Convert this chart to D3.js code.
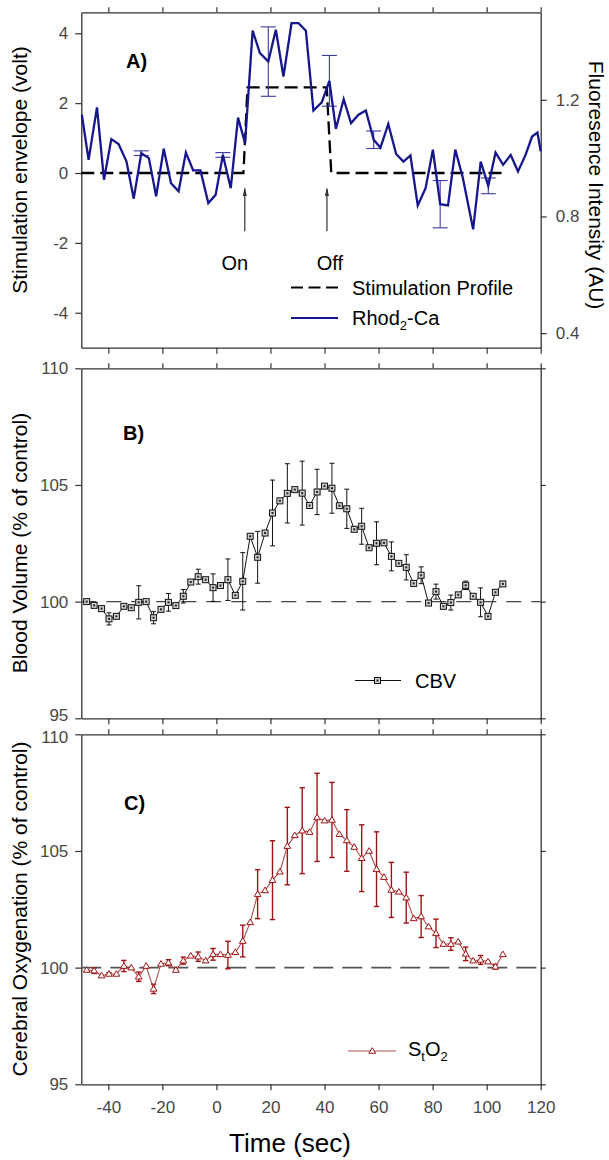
<!DOCTYPE html>
<html><head><meta charset="utf-8">
<script src="https://cdn.jsdelivr.net/npm/d3@7"></script>
<style>
body{margin:0;background:#fff}
svg{display:block}
text{font-family:"Liberation Sans",Arial,sans-serif}
</style>
</head><body>
<svg id="c" width="609" height="1160"></svg>
<script>
// ---------------- DATA ----------------
const xTicks = [-40, -20, 0, 20, 40, 60, 80, 100, 120];
const voltTicks = [-4, -2, 0, 2, 4];
const fluorTicks = [0.4, 0.8, 1.2];
const pctTicks = [95, 100, 105, 110];

// Panel A: stimulation profile (volt)
const stimTime = [-50, 10, 11.5, 40.8, 42.5, 106];
const stimVolt = [0, 0, 2.45, 2.45, 0, 0];
const stimEventTime = [10.5, 40.9];
const stimEventLabel = ["On", "Off"];

// Panel A: Rhod2-Ca fluorescence (AU)
const rhodTime = [-49.8, -47.3, -44.2, -41.6, -38.9, -36.2, -33.3, -30.6, -27.8, -25.0,
  -22.3, -19.5, -16.8, -14.0, -11.3, -8.6, -5.9, -3.0, -0.3, 2.4,
  5.3, 8.0, 10.6, 13.4, 16.1, 19.2, 22.0, 24.8, 27.8, 30.4,
  33.1, 35.9, 39.0, 41.8, 44.2, 47.1, 49.8, 52.6, 55.3, 58.2,
  60.7, 63.6, 66.5, 69.2, 71.8, 74.5, 77.4, 80.1, 82.8, 85.7,
  88.4, 91.2, 95.0, 97.8, 100.6, 103.3, 106.1, 108.9, 111.6, 114.4,
  116.8, 118.8, 120.0];
const rhodValue = [1.149, 0.994, 1.174, 0.926, 1.065, 1.048, 0.989, 0.861, 1.017, 1.000,
  0.869, 1.032, 0.914, 0.886, 1.019, 0.958, 0.958, 0.846, 0.874, 1.011,
  0.897, 1.139, 1.051, 1.437, 1.360, 1.331, 1.440, 1.280, 1.463, 1.463,
  1.437, 1.163, 1.191, 1.265, 1.100, 1.202, 1.120, 1.149, 1.163, 1.063,
  1.036, 1.117, 1.014, 0.988, 1.009, 0.838, 0.897, 1.029, 0.842, 0.838,
  1.029, 0.932, 0.756, 0.988, 0.905, 1.019, 0.977, 1.011, 0.954, 1.011,
  1.074, 1.088, 1.023];
const rhodErr = [0, 0, 0, 0, 0, 0, 0, 0, 0.008, 0,
  0, 0, 0, 0, 0, 0, 0, 0, 0, 0.008,
  0, 0, 0, 0, 0, 0.119, 0, 0, 0, 0,
  0, 0, 0, 0.087, 0, 0, 0, 0, 0, 0.03,
  0, 0, 0, 0, 0, 0, 0, 0, 0.081, 0,
  0, 0, 0, 0, 0.027, 0, 0, 0, 0, 0,
  0, 0, 0];

// Panels B and C: common sample times (sec)
const sampleTime = [-48, -45.25, -42.5, -39.75, -37, -34.25, -31.5, -28.75, -26, -23.25,
  -20.5, -17.75, -15, -12.25, -9.5, -6.75, -4, -1.25, 1.5, 4.25,
  7, 9.75, 12.5, 15.25, 18, 20.75, 23.5, 26.25, 29, 31.75,
  34.5, 37.25, 40, 42.75, 45.5, 48.25, 51, 53.75, 56.5, 59.25,
  62, 64.75, 67.5, 70.25, 73, 75.75, 78.5, 81.25, 84, 86.75,
  89.5, 92.25, 95, 97.75, 100.5, 103.25, 106];

// Panel B: CBV (% of control)
const cbvValue = [100.0, 99.84, 99.70, 99.26, 99.37, 99.80, 99.74, 99.97, 100.0, 99.31,
  99.67, 99.97, 99.83, 100.23, 100.84, 101.07, 100.94, 100.60, 100.69, 100.94,
  100.27, 100.87, 102.80, 101.90, 102.94, 103.80, 104.32, 104.64, 104.80, 104.65,
  104.12, 104.70, 104.95, 104.86, 104.11, 103.98, 103.10, 103.23, 102.31, 102.50,
  102.52, 101.94, 101.64, 101.47, 100.78, 101.13, 99.94, 100.43, 99.80, 99.96,
  100.29, 100.70, 100.23, 99.97, 99.37, 100.40, 100.76];
const cbvErr = [0, 0, 0, 0.26, 0, 0.08, 0, 0.71, 0, 0.26,
  0, 0.38, 0, 0.29, 0, 0.32, 0, 0.59, 0, 0.89,
  0, 1.23, 0, 1.11, 0, 1.41, 0, 1.27, 0, 1.37,
  0, 0.97, 0, 1.07, 0, 0.84, 0, 0.77, 0, 0.92,
  0, 0.62, 0, 0.54, 0, 0.36, 0, 0.32, 0, 0.32,
  0, 0.18, 0, 0.62, 0, 0, 0];

// Panel C: StO2 (% of control)
const sto2Value = [99.90, 99.87, 99.66, 99.73, 99.73, 100.07, 100.0, 99.61, 100.07, 99.09,
  100.16, 100.21, 99.90, 100.30, 100.51, 100.47, 100.30, 100.57, 100.57, 100.54,
  100.66, 101.14, 101.94, 103.15, 103.31, 103.75, 104.11, 105.21, 105.67, 105.87,
  105.81, 106.44, 106.30, 106.33, 105.72, 105.45, 105.17, 104.69, 105.00, 104.22,
  103.88, 103.33, 103.25, 103.00, 102.11, 102.19, 101.76, 101.47, 101.01, 101.01,
  101.11, 100.59, 100.30, 100.33, 100.26, 100.04, 100.57];
const sto2Err = [0, 0.12, 0, 0.05, 0, 0.24, 0, 0.20, 0, 0.20,
  0, 0.13, 0, 0.15, 0, 0.20, 0, 0.25, 0, 0.59,
  0, 0.68, 0, 1.05, 0, 1.69, 0, 1.66, 0, 1.84,
  0, 1.89, 0, 1.61, 0, 1.32, 0, 1.43, 0, 1.60,
  0, 1.18, 0, 1.09, 0, 0.90, 0, 0.61, 0, 0.27,
  0, 0.29, 0, 0.19, 0, 0.10, 0];

const controlLevel = [100];

// ---------------- DRAW ----------------
const svg = d3.select("#c");
const X0 = 81.3, X1 = 540.7;
const x = d3.scaleLinear().domain([-50, 120]).range([X0, X1]);

const A = {top: 12.3, bottom: 347.7};
const B = {top: 368.3, bottom: 718.3};
const C = {top: 734.3, bottom: 1084.3};

const yV = d3.scaleLinear().domain([-5, 4.6]).range([A.bottom, A.top]);
const yF = d3.scaleLinear().domain([0.35, 1.5]).range([A.bottom, A.top]);
const yB = d3.scaleLinear().domain([95, 110]).range([B.bottom, B.top]);
const yC = d3.scaleLinear().domain([95, 110]).range([C.bottom, C.top]);

const AX = "#333", LBL = "#474747";

function styleAxis(g) {
  g.select(".domain").attr("stroke", AX).attr("stroke-width", 1.3);
  g.selectAll(".tick line").attr("stroke", AX).attr("stroke-width", 1.2);
  g.selectAll(".tick text").attr("fill", LBL).attr("font-size", 17)
    .attr("font-family", "Liberation Sans, Arial, sans-serif");
}

function frame(p, yScale, yTickVals, opts) {
  // left
  const l = svg.append("g").attr("transform", `translate(${X0},0)`)
    .call(d3.axisLeft(yScale).tickValues(yTickVals).tickSize(6).tickPadding(7)
      .tickSizeOuter(0).tickFormat(d => String(d)))
    .call(styleAxis);
  if (opts.nudge) {
    l.selectAll(".tick text").attr("transform", d => opts.nudge(d));
  }
  // right
  const r = svg.append("g").attr("transform", `translate(${X1},0)`);
  if (opts.rightScale) {
    r.call(d3.axisRight(opts.rightScale).tickValues(opts.rightTicks).tickSize(6).tickPadding(9)
      .tickSizeOuter(0).tickFormat(d3.format(".1f")));
  } else {
    r.call(d3.axisRight(yScale).tickValues(yTickVals).tickSize(5).tickSizeOuter(0).tickFormat(""));
  }
  r.call(styleAxis);
  // top
  svg.append("g").attr("transform", `translate(0,${p.top})`)
    .call(d3.axisTop(x).tickValues(xTicks).tickSize(5).tickSizeOuter(0).tickFormat(""))
    .call(styleAxis);
  // bottom
  const b = svg.append("g").attr("transform", `translate(0,${p.bottom})`);
  if (opts.bottomLabels) {
    b.call(d3.axisBottom(x).tickValues(xTicks).tickSize(6).tickPadding(11)
      .tickSizeOuter(0).tickFormat(d => String(d)));
  } else {
    b.call(d3.axisBottom(x).tickValues(xTicks).tickSize(6).tickSizeOuter(0).tickFormat(""));
  }
  b.call(styleAxis);
}

frame(A, yV, voltTicks, {rightScale: yF, rightTicks: fluorTicks});
frame(B, yB, pctTicks, {nudge: d => d === 95 ? "translate(0,-3)" : null});
frame(C, yC, pctTicks, {bottomLabels: true, nudge: d => d === 110 ? "translate(0,3)" : null});

// ---- Panel A ----
const gA = svg.append("g");
// stimulation profile
const stimPts = stimTime.map((t, i) => [t, stimVolt[i]]);
gA.append("path").datum(stimPts)
  .attr("d", d3.line().x(d => x(d[0])).y(d => yV(d[1])))
  .attr("fill", "none").attr("stroke", "#000").attr("stroke-width", 2.3)
  .attr("stroke-dasharray", "13,6");

// On/Off arrows
const arrowTop = yV(-0.4), arrowBot = yV(-1.67);
stimEventTime.forEach((t, i) => {
  const ax = x(t);
  gA.append("line").attr("x1", ax).attr("x2", ax).attr("y1", arrowTop + 2).attr("y2", arrowBot)
    .attr("stroke", "#333").attr("stroke-width", 1.2);
  gA.append("path").attr("d", `M${ax},${arrowTop} L${ax - 2},${arrowTop + 9} L${ax + 2},${arrowTop + 9} Z`)
    .attr("fill", "#333");
  gA.append("text").attr("x", ax + (i === 0 ? -10 : 3)).attr("y", yV(-2.78))
    .attr("text-anchor", "middle").attr("font-size", 20).attr("fill", "#000")
    .text(stimEventLabel[i]);
});

// Rhod error bars
const BLUE = "#16168e";
rhodTime.forEach((t, i) => {
  const e = rhodErr[i];
  if (!e) return;
  const cx = x(t), y1 = yF(rhodValue[i] + e), y2 = yF(rhodValue[i] - e);
  gA.append("line").attr("x1", cx).attr("x2", cx).attr("y1", y1).attr("y2", y2)
    .attr("stroke", "#3a3aa6").attr("stroke-width", 1.1);
  [y1, y2].forEach(yy => gA.append("line").attr("x1", cx - 7.5).attr("x2", cx + 7.5)
    .attr("y1", yy).attr("y2", yy).attr("stroke", "#3a3aa6").attr("stroke-width", 1.1));
});
const rhodPts = rhodTime.map((t, i) => [t, rhodValue[i]]);
gA.append("path").datum(rhodPts)
  .attr("d", d3.line().x(d => x(d[0])).y(d => yF(d[1])))
  .attr("fill", "none").attr("stroke", BLUE).attr("stroke-width", 2.3)
  .attr("stroke-linejoin", "miter");

// Panel A label
svg.append("text").attr("x", 126).attr("y", 68).attr("font-size", 20).attr("font-weight", "bold")
  .text("A)");

// Panel A legend
gA.append("line").attr("x1", 291).attr("x2", 338).attr("y1", 287.5).attr("y2", 287.5)
  .attr("stroke", "#000").attr("stroke-width", 2).attr("stroke-dasharray", "12,5.5");
gA.append("text").attr("x", 352).attr("y", 295).attr("font-size", 20).text("Stimulation Profile");
gA.append("line").attr("x1", 291).attr("x2", 338).attr("y1", 318).attr("y2", 318)
  .attr("stroke", BLUE).attr("stroke-width", 2.2);
const rl = gA.append("text").attr("x", 352).attr("y", 325).attr("font-size", 20);
rl.append("tspan").text("Rhod");
rl.append("tspan").attr("dy", 5).attr("font-size", 13).text("2");
rl.append("tspan").attr("dy", -5).text("-Ca");

// ---- Panel B ----
const gB = svg.append("g");
gB.append("line").attr("x1", X0).attr("x2", X1).attr("y1", yB(controlLevel[0])).attr("y2", yB(controlLevel[0]))
  .attr("stroke", "#444").attr("stroke-width", 1.3).attr("stroke-dasharray", "15,10");
sampleTime.forEach((t, i) => {
  const e = cbvErr[i];
  if (!e) return;
  const cx = x(t), y1 = yB(cbvValue[i] + e), y2 = yB(cbvValue[i] - e);
  gB.append("line").attr("x1", cx).attr("x2", cx).attr("y1", y1).attr("y2", y2)
    .attr("stroke", "#111").attr("stroke-width", 1);
  [y1, y2].forEach(yy => gB.append("line").attr("x1", cx - 2.5).attr("x2", cx + 2.5)
    .attr("y1", yy).attr("y2", yy).attr("stroke", "#111").attr("stroke-width", 1));
});
const cbvPts = sampleTime.map((t, i) => [t, cbvValue[i]]);
gB.append("path").datum(cbvPts)
  .attr("d", d3.line().x(d => x(d[0])).y(d => yB(d[1])))
  .attr("fill", "none").attr("stroke", "#111").attr("stroke-width", 1);
function squareMarker(g, cx, cy) {
  g.append("rect").attr("x", cx - 3).attr("y", cy - 3).attr("width", 6).attr("height", 6)
    .attr("fill", "#cfcfcf").attr("stroke", "#111").attr("stroke-width", 1);
  g.append("rect").attr("x", cx - 1).attr("y", cy - 1).attr("width", 2).attr("height", 2)
    .attr("fill", "#222");
}
cbvPts.forEach(d => squareMarker(gB, x(d[0]), yB(d[1])));
svg.append("text").attr("x", 123).attr("y", 440).attr("font-size", 20).attr("font-weight", "bold")
  .text("B)");
// legend
gB.append("line").attr("x1", 355).attr("x2", 401).attr("y1", 680.5).attr("y2", 680.5)
  .attr("stroke", "#111").attr("stroke-width", 1);
squareMarker(gB, 377.5, 680.5);
gB.append("text").attr("x", 415).attr("y", 687.5).attr("font-size", 20).text("CBV");

// ---- Panel C ----
const gC = svg.append("g");
const RED = "#9e1414", REDL = "#b24a4a";
gC.append("line").attr("x1", X0).attr("x2", X1).attr("y1", yC(controlLevel[0])).attr("y2", yC(controlLevel[0]))
  .attr("stroke", "#555").attr("stroke-width", 1.8).attr("stroke-dasharray", "20,9");
sampleTime.forEach((t, i) => {
  const e = sto2Err[i];
  if (!e) return;
  const cx = x(t), y1 = yC(sto2Value[i] + e), y2 = yC(sto2Value[i] - e);
  gC.append("line").attr("x1", cx).attr("x2", cx).attr("y1", y1).attr("y2", y2)
    .attr("stroke", RED).attr("stroke-width", 1.4);
  [y1, y2].forEach(yy => gC.append("line").attr("x1", cx - 2.7).attr("x2", cx + 2.7)
    .attr("y1", yy).attr("y2", yy).attr("stroke", RED).attr("stroke-width", 1.4));
});
const sto2Pts = sampleTime.map((t, i) => [t, sto2Value[i]]);
gC.append("path").datum(sto2Pts)
  .attr("d", d3.line().x(d => x(d[0])).y(d => yC(d[1])))
  .attr("fill", "none").attr("stroke", REDL).attr("stroke-width", 1.1);
function triMarker(g, cx, cy) {
  g.append("path").attr("d", `M${cx},${cy - 3.3} L${cx + 3.4},${cy + 2.3} L${cx - 3.4},${cy + 2.3} Z`)
    .attr("fill", "#fff").attr("stroke", RED).attr("stroke-width", 1);
}
sto2Pts.forEach(d => triMarker(gC, x(d[0]), yC(d[1])));
svg.append("text").attr("x", 124).attr("y", 810).attr("font-size", 20).attr("font-weight", "bold")
  .text("C)");
// legend
gC.append("line").attr("x1", 348).attr("x2", 396).attr("y1", 1051).attr("y2", 1051)
  .attr("stroke", REDL).attr("stroke-width", 1.1);
triMarker(gC, 372.3, 1051);
const sl = gC.append("text").attr("x", 408).attr("y", 1056).attr("font-size", 20);
sl.append("tspan").text("S");
sl.append("tspan").attr("dy", 5).attr("font-size", 13).text("t");
sl.append("tspan").attr("dy", -5).text("O");
sl.append("tspan").attr("dy", 5).attr("font-size", 13).text("2");

// ---- Axis titles ----
function vTitle(xp, yc, rot, txt) {
  svg.append("text").attr("transform", `translate(${xp},${yc}) rotate(${rot})`)
    .attr("text-anchor", "middle").attr("font-size", 21).attr("fill", "#000").text(txt);
}
vTitle(27, 170, -90, "Stimulation envelope (volt)");
vTitle(589, 185, 90, "Fluoresence Intensity (AU)");
vTitle(27, 543, -90, "Blood Volume (% of  control)");
vTitle(27, 909, -90, "Cerebral Oxygenation (% of  control)");
svg.append("text").attr("x", 290).attr("y", 1152).attr("text-anchor", "middle")
  .attr("font-size", 26).attr("fill", "#000").text("Time (sec)");
</script>
</body></html>
